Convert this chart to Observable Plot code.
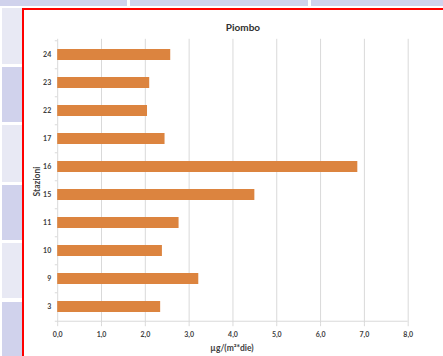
<!DOCTYPE html>
<html>
<head>
<meta charset="utf-8">
<script src="https://cdn.jsdelivr.net/npm/d3@7"></script>
<script src="https://cdn.jsdelivr.net/npm/@observablehq/plot@0.6"></script>
<style>
  html, body { margin: 0; padding: 0; background: #fff; }
  #page { position: relative; width: 443px; height: 356px; overflow: hidden; background: #fff; }
  .cell { position: absolute; }
  .dark { background: #d0d2ec; }
  .light { background: #e8e9f4; }
  #box { position: absolute; left: 22px; top: 8px; width: 460px; height: 380px;
         border: 2px solid #ff0000; background: #fff; box-sizing: border-box; }
  #chart { position: absolute; left: 0; top: 0; }
</style>
</head>
<body>
<div id="page">
  <div class="cell dark" style="left:0;top:0;width:127px;height:6px"></div>
  <div class="cell dark" style="left:130px;top:0;width:178px;height:6px"></div>
  <div class="cell dark" style="left:311px;top:0;width:140px;height:6px"></div>
  <div class="cell light" style="left:2px;top:8px;width:20px;height:56px"></div>
  <div class="cell dark" style="left:2px;top:67px;width:20px;height:55px"></div>
  <div class="cell light" style="left:2px;top:125px;width:20px;height:57px"></div>
  <div class="cell dark" style="left:2px;top:185px;width:20px;height:55px"></div>
  <div class="cell light" style="left:2px;top:243px;width:20px;height:55px"></div>
  <div class="cell dark" style="left:2px;top:302px;width:20px;height:60px"></div>
  <div id="box"></div>
  <div id="chart"></div>
</div>
<script>
// Lead deposition per monitoring station
const title = "Piombo";
const stations = ["24", "23", "22", "17", "16", "15", "11", "10", "9", "3"];
const lead = [2.58, 2.10, 2.05, 2.45, 6.85, 4.50, 2.77, 2.39, 3.22, 2.35];
const xTicks = [0, 1, 2, 3, 4, 5, 6, 7, 8];
const xLabel = "µg/(m²*die)";
const yLabel = "Stazioni";

const data = stations.map((s, i) => ({station: s, value: lead[i]}));

const W = 443, H = 356;
const mt = 38.8, mb = 32.8, ml = 57.2, mr = 35.3;
const step = (H - mt - mb) / stations.length;

const font = "Lato, 'Open Sans', sans-serif";
const ink = "#404040";
const gridColor = "#d9d9d9";
const fmt = d => d.toFixed(1).replace(".", ",");

const chart = Plot.plot({
  width: W,
  height: H,
  marginTop: mt,
  marginBottom: mb,
  marginLeft: ml,
  marginRight: mr,
  style: {background: "transparent", fontFamily: font, overflow: "visible"},
  x: {domain: [0, 8]},
  y: {domain: stations, paddingInner: 0.6, paddingOuter: 0.3},
  marks: [
    Plot.gridX(xTicks, {stroke: gridColor, strokeOpacity: 1, strokeWidth: 1}),
    // bottom axis line
    Plot.ruleY([stations[stations.length - 1]], {dy: step / 2, stroke: gridColor, strokeWidth: 1}),
    // small category separators on the left of the y axis
    Plot.ruleY(stations, {x1: -0.055, x2: 0, dy: -step / 2, stroke: gridColor}),
    Plot.ruleY([stations[stations.length - 1]], {x1: -0.055, x2: 0, dy: step / 2, stroke: gridColor}),
    Plot.barX(data, {x: "value", y: "station", fill: "#dc843f"}),
    Plot.axisX({
      ticks: xTicks, tickFormat: fmt, tickSize: 3, tickPadding: 5,
      stroke: gridColor, fill: ink, fontSize: 7, fontWeight: "bold", label: null
    }),
    Plot.axisY({
      tickSize: 0, tickPadding: 6.5, fill: ink, fontSize: 7, fontWeight: "bold", label: null
    }),
    Plot.text([title], {
      frameAnchor: "top", dy: -15.5, dx: 10, fontSize: 10, fontWeight: "bold", fill: "#303030"
    }),
    Plot.text([yLabel], {
      frameAnchor: "left", textAnchor: "middle", dx: -20, dy: 0, rotate: -90,
      fontSize: 8.5, fontWeight: "bold", fill: ink
    }),
    Plot.text([xLabel], {
      frameAnchor: "bottom", dy: 27.5, dx: -1, fontSize: 8.5, fontWeight: "bold", fill: ink
    })
  ]
});

document.getElementById("chart").appendChild(chart);
</script>
</body>
</html>
